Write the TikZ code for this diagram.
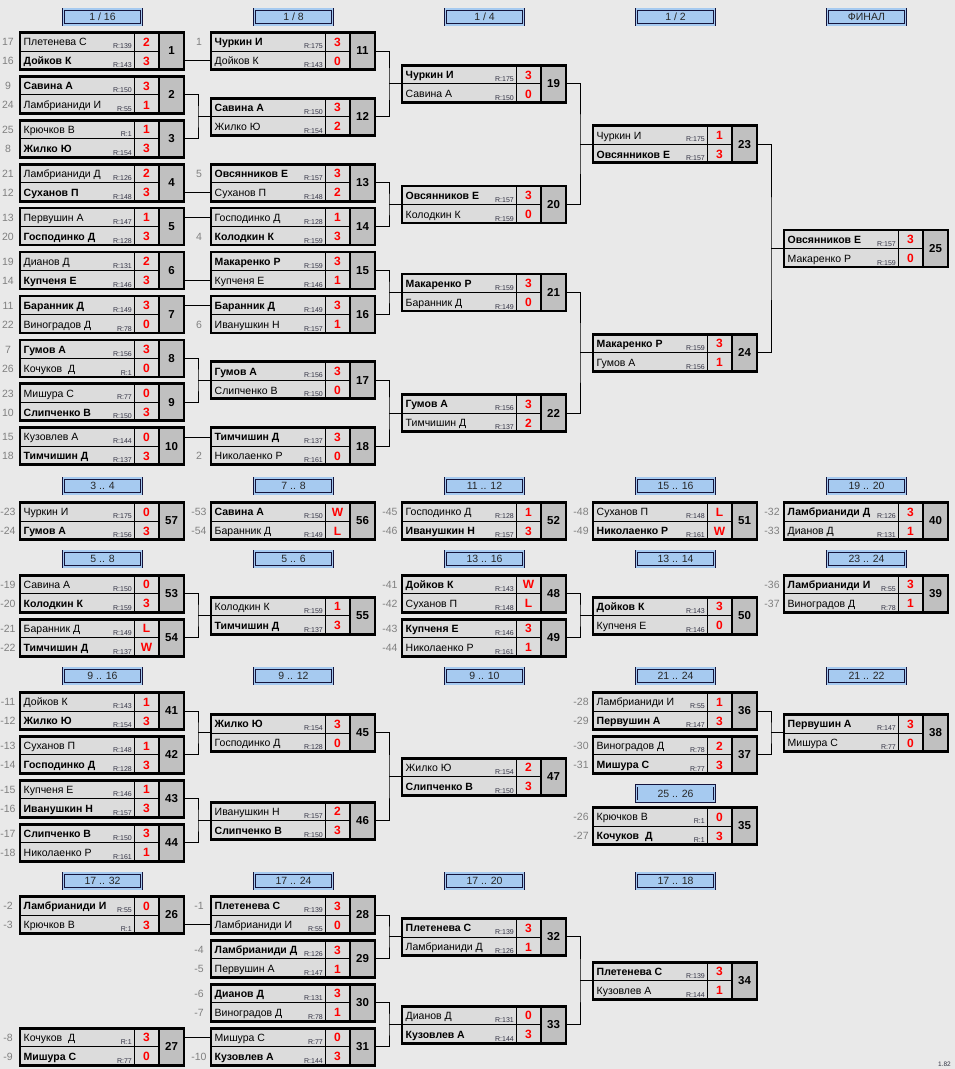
\documentclass[tikz,border=0pt]{standalone}
\usepackage{fontspec}
\setmainfont{Liberation Sans}
\usetikzlibrary{calc}
\definecolor{bgc}{HTML}{E9E9E9}
\definecolor{namec}{HTML}{DCDCDC}
\definecolor{numc}{HTML}{C0C0C0}
\definecolor{hdrc}{HTML}{A6CAF0}
\definecolor{hdrl}{HTML}{14143C}
\definecolor{seedc}{HTML}{808080}
\definecolor{ratc}{HTML}{333344}
\definecolor{scorec}{HTML}{FF0000}
\newcommand{\bnm}[1]{\textbf{#1}}
\newcommand{\Mbox}[3]{%
  \def\Mx{#1}\def\My{#2}%
  \fill[namec] (#1,#2) rectangle ++(139,37);
  \fill[numc] (#1+139,#2) rectangle ++(25,37);
  \draw[thinln] (#1,#2+18.5) -- ++(139,0);
  \draw[thinln] (#1+114,#2) -- ++(0,37);
  \draw[thickln] (#1+139,#2) -- ++(0,37);
  \draw[thickln] (#1,#2) rectangle ++(164,37);
  \node[numtxt] (m#3) at (#1+151.5,#2+18.5) {#3};
  \coordinate (m#3W) at (#1,#2+18.5);
  \coordinate (m#3A) at (#1,#2+9.5);
  \coordinate (m#3B) at (#1,#2+28.3);
}
\newcommand{\Mrow}[6]{%
  \pgfmathsetmacro\Ry{\My+#2*19}%
  \node[seedtxt] (s#1r#2) at (\Mx-12,\Ry+13.3) {#3};
  \node[nametxt] (n#1r#2) at (\Mx+3.5,\Ry+13.3) {#4};
  \node[rtxt] (r#1r#2) at (\Mx+112,\Ry+16.2) {R:#5};
  \node[scoretxt] (c#1r#2) at (\Mx+126.5,\Ry+13.6) {#6};
}
\newcommand{\pairc}[3]{%
  \draw[conn] (m#1.east) -| ([xshift=-13pt]m#3W) |- (m#2.east);
  \draw[conn] ([xshift=-13pt]m#3W) -- (m#3W);
}
\newcommand{\singA}[2]{\draw[conn] (m#1.east |- m#2A) -- (m#2A);}
\newcommand{\singB}[2]{\draw[conn] (m#1.east |- m#2B) -- (m#2B);}
\begin{document}
\begin{tikzpicture}[x=1pt,y=-1pt,
 thinln/.style={line width=0.9pt, black},
 thickln/.style={line width=2.6pt, black},
 conn/.style={line width=1pt, black},
 numtxt/.style={inner sep=0pt, outer sep=0pt, minimum width=25pt, minimum height=37pt, font=\fontsize{11.5}{12}\selectfont\bfseries},
 nametxt/.style={anchor=base west, inner sep=0pt, font=\fontsize{10.5}{12}\selectfont},
 seedtxt/.style={anchor=base, inner sep=0pt, text=seedc, font=\fontsize{10.5}{12}\selectfont},
 rtxt/.style={anchor=base east, inner sep=0pt, text=ratc, font=\fontsize{7}{8}\selectfont},
 scoretxt/.style={anchor=base, inner sep=0pt, text=scorec, font=\fontsize{12}{13}\selectfont\bfseries},
 hdrbox/.style={draw=hdrl, line width=0.7pt, double=hdrc, double distance=1.6pt, fill=hdrc, minimum width=78pt, minimum height=15.5pt, inner sep=0pt, font=\fontsize{10.5}{12}\selectfont, text=black!85},
]
\fill[bgc] (0,0) rectangle (955,1069);
\useasboundingbox (0,0) rectangle (955,1069);

% ---------- headers ----------
\node[hdrbox] (hA1) at (102.5,17) {1 / 16};
\node[hdrbox] (hA2) at (293.5,17) {1 / 8};
\node[hdrbox] (hA3) at (484.5,17) {1 / 4};
\node[hdrbox] (hA4) at (675.5,17) {1 / 2};
\node[hdrbox] (hA5) at (866.5,17) {ФИНАЛ};
\node[hdrbox] (hB1) at (102.5,486) {3 .. 4};
\node[hdrbox] (hB2) at (293.5,486) {7 .. 8};
\node[hdrbox] (hB3) at (484.5,486) {11 .. 12};
\node[hdrbox] (hB4) at (675.5,486) {15 .. 16};
\node[hdrbox] (hB5) at (866.5,486) {19 .. 20};
\node[hdrbox] (hC1) at (102.5,559) {5 .. 8};
\node[hdrbox] (hC2) at (293.5,559) {5 .. 6};
\node[hdrbox] (hC3) at (484.5,559) {13 .. 16};
\node[hdrbox] (hC4) at (675.5,559) {13 .. 14};
\node[hdrbox] (hC5) at (866.5,559) {23 .. 24};
\node[hdrbox] (hD1) at (102.5,676) {9 .. 16};
\node[hdrbox] (hD2) at (293.5,676) {9 .. 12};
\node[hdrbox] (hD3) at (484.5,676) {9 .. 10};
\node[hdrbox] (hD4) at (675.5,676) {21 .. 24};
\node[hdrbox] (hD5) at (866.5,676) {21 .. 22};
\node[hdrbox] (hD6) at (675.5,793.5) {25 .. 26};
\node[hdrbox] (hE1) at (102.5,881) {17 .. 32};
\node[hdrbox] (hE2) at (293.5,881) {17 .. 24};
\node[hdrbox] (hE3) at (484.5,881) {17 .. 20};
\node[hdrbox] (hE4) at (675.5,881) {17 .. 18};

% ---------- 1/16 ----------
\Mbox{20}{32.5}{1}
\Mrow{1}{0}{17}{Плетенева С}{139}{2}
\Mrow{1}{1}{16}{\bnm{Дойков К}}{143}{3}
\Mbox{20}{76.4}{2}
\Mrow{2}{0}{9}{\bnm{Савина А}}{150}{3}
\Mrow{2}{1}{24}{Ламбрианиди И}{55}{1}
\Mbox{20}{120.3}{3}
\Mrow{3}{0}{25}{Крючков В}{1}{1}
\Mrow{3}{1}{8}{\bnm{Жилко Ю}}{154}{3}
\Mbox{20}{164.2}{4}
\Mrow{4}{0}{21}{Ламбрианиди Д}{126}{2}
\Mrow{4}{1}{12}{\bnm{Суханов П}}{148}{3}
\Mbox{20}{208.1}{5}
\Mrow{5}{0}{13}{Первушин А}{147}{1}
\Mrow{5}{1}{20}{\bnm{Господинко Д}}{128}{3}
\Mbox{20}{252.0}{6}
\Mrow{6}{0}{19}{Дианов Д}{131}{2}
\Mrow{6}{1}{14}{\bnm{Купченя Е}}{146}{3}
\Mbox{20}{295.9}{7}
\Mrow{7}{0}{11}{\bnm{Баранник Д}}{149}{3}
\Mrow{7}{1}{22}{Виноградов Д}{78}{0}
\Mbox{20}{339.8}{8}
\Mrow{8}{0}{7}{\bnm{Гумов А}}{156}{3}
\Mrow{8}{1}{26}{Кочуков~~Д}{1}{0}
\Mbox{20}{383.7}{9}
\Mrow{9}{0}{23}{Мишура С}{77}{0}
\Mrow{9}{1}{10}{\bnm{Слипченко В}}{150}{3}
\Mbox{20}{427.6}{10}
\Mrow{10}{0}{15}{Кузовлев А}{144}{0}
\Mrow{10}{1}{18}{\bnm{Тимчишин Д}}{137}{3}

% ---------- 1/8 ----------
\Mbox{211}{32.5}{11}
\Mrow{11}{0}{1}{\bnm{Чуркин И}}{175}{3}
\Mrow{11}{1}{}{Дойков К}{143}{0}
\Mbox{211}{98.35}{12}
\Mrow{12}{0}{}{\bnm{Савина А}}{150}{3}
\Mrow{12}{1}{}{Жилко Ю}{154}{2}
\Mbox{211}{164.2}{13}
\Mrow{13}{0}{5}{\bnm{Овсянников Е}}{157}{3}
\Mrow{13}{1}{}{Суханов П}{148}{2}
\Mbox{211}{208.1}{14}
\Mrow{14}{0}{}{Господинко Д}{128}{1}
\Mrow{14}{1}{4}{\bnm{Колодкин К}}{159}{3}
\Mbox{211}{252.0}{15}
\Mrow{15}{0}{}{\bnm{Макаренко Р}}{159}{3}
\Mrow{15}{1}{}{Купченя Е}{146}{1}
\Mbox{211}{295.9}{16}
\Mrow{16}{0}{}{\bnm{Баранник Д}}{149}{3}
\Mrow{16}{1}{6}{Иванушкин Н}{157}{1}
\Mbox{211}{361.75}{17}
\Mrow{17}{0}{}{\bnm{Гумов А}}{156}{3}
\Mrow{17}{1}{}{Слипченко В}{150}{0}
\Mbox{211}{427.6}{18}
\Mrow{18}{0}{}{\bnm{Тимчишин Д}}{137}{3}
\Mrow{18}{1}{2}{Николаенко Р}{161}{0}

% ---------- 1/4 ----------
\Mbox{402}{65.43}{19}
\Mrow{19}{0}{}{\bnm{Чуркин И}}{175}{3}
\Mrow{19}{1}{}{Савина А}{150}{0}
\Mbox{402}{186.15}{20}
\Mrow{20}{0}{}{\bnm{Овсянников Е}}{157}{3}
\Mrow{20}{1}{}{Колодкин К}{159}{0}
\Mbox{402}{273.95}{21}
\Mrow{21}{0}{}{\bnm{Макаренко Р}}{159}{3}
\Mrow{21}{1}{}{Баранник Д}{149}{0}
\Mbox{402}{394.68}{22}
\Mrow{22}{0}{}{\bnm{Гумов А}}{156}{3}
\Mrow{22}{1}{}{Тимчишин Д}{137}{2}

% ---------- 1/2 ----------
\Mbox{593}{125.79}{23}
\Mrow{23}{0}{}{Чуркин И}{175}{1}
\Mrow{23}{1}{}{\bnm{Овсянников Е}}{157}{3}
\Mbox{593}{334.31}{24}
\Mrow{24}{0}{}{\bnm{Макаренко Р}}{159}{3}
\Mrow{24}{1}{}{Гумов А}{156}{1}

% ---------- final ----------
\Mbox{784}{230.05}{25}
\Mrow{25}{0}{}{\bnm{Овсянников Е}}{157}{3}
\Mrow{25}{1}{}{Макаренко Р}{159}{0}

% ---------- row B ----------
\Mbox{20}{502.5}{57}
\Mrow{57}{0}{-23}{Чуркин И}{175}{0}
\Mrow{57}{1}{-24}{\bnm{Гумов А}}{156}{3}
\Mbox{211}{502.5}{56}
\Mrow{56}{0}{-53}{\bnm{Савина А}}{150}{W}
\Mrow{56}{1}{-54}{Баранник Д}{149}{L}
\Mbox{402}{502.5}{52}
\Mrow{52}{0}{-45}{Господинко Д}{128}{1}
\Mrow{52}{1}{-46}{\bnm{Иванушкин Н}}{157}{3}
\Mbox{593}{502.5}{51}
\Mrow{51}{0}{-48}{Суханов П}{148}{L}
\Mrow{51}{1}{-49}{\bnm{Николаенко Р}}{161}{W}
\Mbox{784}{502.5}{40}
\Mrow{40}{0}{-32}{\bnm{Ламбрианиди Д}}{126}{3}
\Mrow{40}{1}{-33}{Дианов Д}{131}{1}

% ---------- row C ----------
\Mbox{20}{575.3}{53}
\Mrow{53}{0}{-19}{Савина А}{150}{0}
\Mrow{53}{1}{-20}{\bnm{Колодкин К}}{159}{3}
\Mbox{20}{619.2}{54}
\Mrow{54}{0}{-21}{Баранник Д}{149}{L}
\Mrow{54}{1}{-22}{\bnm{Тимчишин Д}}{137}{W}
\Mbox{211}{597.25}{55}
\Mrow{55}{0}{}{Колодкин К}{159}{1}
\Mrow{55}{1}{}{\bnm{Тимчишин Д}}{137}{3}
\Mbox{402}{575.3}{48}
\Mrow{48}{0}{-41}{\bnm{Дойков К}}{143}{W}
\Mrow{48}{1}{-42}{Суханов П}{148}{L}
\Mbox{402}{619.2}{49}
\Mrow{49}{0}{-43}{\bnm{Купченя Е}}{146}{3}
\Mrow{49}{1}{-44}{Николаенко Р}{161}{1}
\Mbox{593}{597.25}{50}
\Mrow{50}{0}{}{\bnm{Дойков К}}{143}{3}
\Mrow{50}{1}{}{Купченя Е}{146}{0}
\Mbox{784}{575.3}{39}
\Mrow{39}{0}{-36}{\bnm{Ламбрианиди И}}{55}{3}
\Mrow{39}{1}{-37}{Виноградов Д}{78}{1}

% ---------- row D ----------
\Mbox{20}{692.5}{41}
\Mrow{41}{0}{-11}{Дойков К}{143}{1}
\Mrow{41}{1}{-12}{\bnm{Жилко Ю}}{154}{3}
\Mbox{20}{736.4}{42}
\Mrow{42}{0}{-13}{Суханов П}{148}{1}
\Mrow{42}{1}{-14}{\bnm{Господинко Д}}{128}{3}
\Mbox{20}{780.3}{43}
\Mrow{43}{0}{-15}{Купченя Е}{146}{1}
\Mrow{43}{1}{-16}{\bnm{Иванушкин Н}}{157}{3}
\Mbox{20}{824.2}{44}
\Mrow{44}{0}{-17}{\bnm{Слипченко В}}{150}{3}
\Mrow{44}{1}{-18}{Николаенко Р}{161}{1}
\Mbox{211}{714.45}{45}
\Mrow{45}{0}{}{\bnm{Жилко Ю}}{154}{3}
\Mrow{45}{1}{}{Господинко Д}{128}{0}
\Mbox{211}{802.25}{46}
\Mrow{46}{0}{}{Иванушкин Н}{157}{2}
\Mrow{46}{1}{}{\bnm{Слипченко В}}{150}{3}
\Mbox{402}{758.35}{47}
\Mrow{47}{0}{}{Жилко Ю}{154}{2}
\Mrow{47}{1}{}{\bnm{Слипченко В}}{150}{3}
\Mbox{593}{692.5}{36}
\Mrow{36}{0}{-28}{Ламбрианиди И}{55}{1}
\Mrow{36}{1}{-29}{\bnm{Первушин А}}{147}{3}
\Mbox{593}{736.4}{37}
\Mrow{37}{0}{-30}{Виноградов Д}{78}{2}
\Mrow{37}{1}{-31}{\bnm{Мишура С}}{77}{3}
\Mbox{784}{714.45}{38}
\Mrow{38}{0}{}{\bnm{Первушин А}}{147}{3}
\Mrow{38}{1}{}{Мишура С}{77}{0}
\Mbox{593}{807.5}{35}
\Mrow{35}{0}{-26}{Крючков В}{1}{0}
\Mrow{35}{1}{-27}{\bnm{Кочуков~~Д}}{1}{3}

% ---------- row E ----------
\Mbox{20}{896.5}{26}
\Mrow{26}{0}{-2}{\bnm{Ламбрианиди И}}{55}{0}
\Mrow{26}{1}{-3}{Крючков В}{1}{3}
\Mbox{20}{1028.2}{27}
\Mrow{27}{0}{-8}{Кочуков~~Д}{1}{3}
\Mrow{27}{1}{-9}{\bnm{Мишура С}}{77}{0}
\Mbox{211}{896.5}{28}
\Mrow{28}{0}{-1}{\bnm{Плетенева С}}{139}{3}
\Mrow{28}{1}{}{Ламбрианиди И}{55}{0}
\Mbox{211}{940.4}{29}
\Mrow{29}{0}{-4}{\bnm{Ламбрианиди Д}}{126}{3}
\Mrow{29}{1}{-5}{Первушин А}{147}{1}
\Mbox{211}{984.3}{30}
\Mrow{30}{0}{-6}{\bnm{Дианов Д}}{131}{3}
\Mrow{30}{1}{-7}{Виноградов Д}{78}{1}
\Mbox{211}{1028.2}{31}
\Mrow{31}{0}{}{Мишура С}{77}{0}
\Mrow{31}{1}{-10}{\bnm{Кузовлев А}}{144}{3}
\Mbox{402}{918.45}{32}
\Mrow{32}{0}{}{\bnm{Плетенева С}}{139}{3}
\Mrow{32}{1}{}{Ламбрианиди Д}{126}{1}
\Mbox{402}{1006.25}{33}
\Mrow{33}{0}{}{Дианов Д}{131}{0}
\Mrow{33}{1}{}{\bnm{Кузовлев А}}{144}{3}
\Mbox{593}{962.35}{34}
\Mrow{34}{0}{}{\bnm{Плетенева С}}{139}{3}
\Mrow{34}{1}{}{Кузовлев А}{144}{1}

% ---------- connectors ----------
\singB{1}{11}
\pairc{2}{3}{12}
\singB{4}{13}
\singA{5}{14}
\singB{6}{15}
\singA{7}{16}
\pairc{8}{9}{17}
\singA{10}{18}
\pairc{11}{12}{19}
\pairc{13}{14}{20}
\pairc{15}{16}{21}
\pairc{17}{18}{22}
\pairc{19}{20}{23}
\pairc{21}{22}{24}
\pairc{23}{24}{25}
\pairc{53}{54}{55}
\pairc{48}{49}{50}
\pairc{41}{42}{45}
\pairc{43}{44}{46}
\pairc{45}{46}{47}
\pairc{36}{37}{38}
\singB{26}{28}
\singA{27}{31}
\pairc{28}{29}{32}
\pairc{30}{31}{33}
\pairc{32}{33}{34}

\node[anchor=base east, inner sep=0pt, text=ratc, font=\fontsize{6.5}{7}\selectfont] (ver) at (951,1066) {1.82};
\end{tikzpicture}
\end{document}
